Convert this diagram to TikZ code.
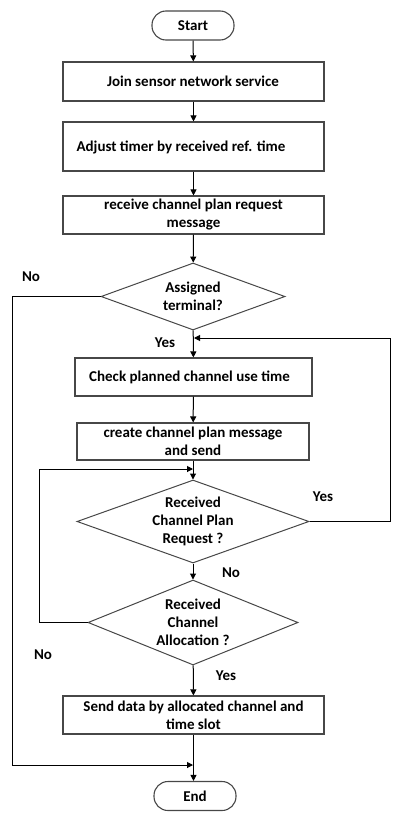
\documentclass[tikz,border=0pt]{standalone}
\usepackage{fontspec}
\setmainfont{Carlito}
\usetikzlibrary{arrows.meta,shapes.geometric}
\begin{document}
\begin{tikzpicture}[x=1pt,y=-1pt,
  font=\bfseries\fontsize{15}{18}\selectfont,
  box/.style={draw=black!72,line width=1.1pt,rectangle,inner sep=0pt,align=center,minimum width=261pt},
  term/.style={draw=black!72,line width=1.1pt,rectangle,rounded corners=14pt,inner sep=0pt,minimum width=82pt,minimum height=29pt},
  dec/.style={draw=black!72,line width=1pt,diamond,inner sep=0pt,align=center},
  arr/.style={draw=black,line width=1pt,-{Triangle[length=6pt,width=6pt]}},
  lbl/.style={inner sep=0pt}]
\useasboundingbox (0,0) rectangle (403,822);
\node[term] (start) at (193,25.5) {Start};
\node[box,minimum height=39pt] (join) at (193.5,81.5) {};
\node (jointxt) at (193,81) {Join sensor network service};
\node[box,minimum height=49pt] (adjust) at (193.5,146.5) {};
\node (adjtxt) at (181,147) {Adjust timer by received ref. time};
\node[box,minimum height=38pt] (recv) at (193.5,215) {receive channel plan request\\message};
\node[dec,aspect=2.75,minimum width=184pt,minimum height=67pt] (d1) at (193,296.5) {Assigned\\terminal?};
\node[box,minimum width=237pt,minimum height=38pt] (check) at (193.5,377) {};
\node (chktxt) at (189.5,377) {Check planned channel use time};
\node[box,minimum width=232pt,minimum height=37pt] (create) at (193,441.5) {create channel plan message\\and send};
\node[dec,aspect=2.8,minimum width=232pt,minimum height=83pt] (d2) at (193,521.5) {Received\\Channel Plan\\Request ?};
\node[dec,aspect=2.47,minimum width=210pt,minimum height=85pt] (d3) at (193,622.5) {Received\\Channel\\Allocation ?};
\node[box,minimum height=38pt] (send) at (193.5,715) {Send data by allocated channel and\\time slot};
\node[term] (end) at (195,796) {End};
\coordinate (m1) at (194,338);
\coordinate (m2) at (193,469);
\coordinate (m3) at (193,765);
\draw[arr] (start) -- (join);
\draw[arr] (join) -- (adjust);
\draw[arr] (adjust) -- (recv);
\draw[arr] (recv) -- (d1);
\draw[arr] (d1) -- (check);
\draw[arr] (check) -- (create);
\draw[arr] (create) -- (d2);
\draw[arr] (d2) -- (d3);
\draw[arr] (d3) -- (send);
\draw[arr] (send.south) -- (send.south |- end.north);
\draw[arr] (d2.east) -- (390,521.5) |- (m1);
\draw[arr] (d3.west) -- (39,622.5) |- (m2);
\draw[arr] (d1.west) -- (12,296.5) |- (m3);
\node[lbl] (no1) at (31,277) {No};
\node[lbl] (yes1) at (165,343) {Yes};
\node[lbl] (yes2) at (323,497) {Yes};
\node[lbl] (no2) at (231,573) {No};
\node[lbl] (no3) at (43,655) {No};
\node[lbl] (yes3) at (226,676) {Yes};
\end{tikzpicture}
\end{document}
